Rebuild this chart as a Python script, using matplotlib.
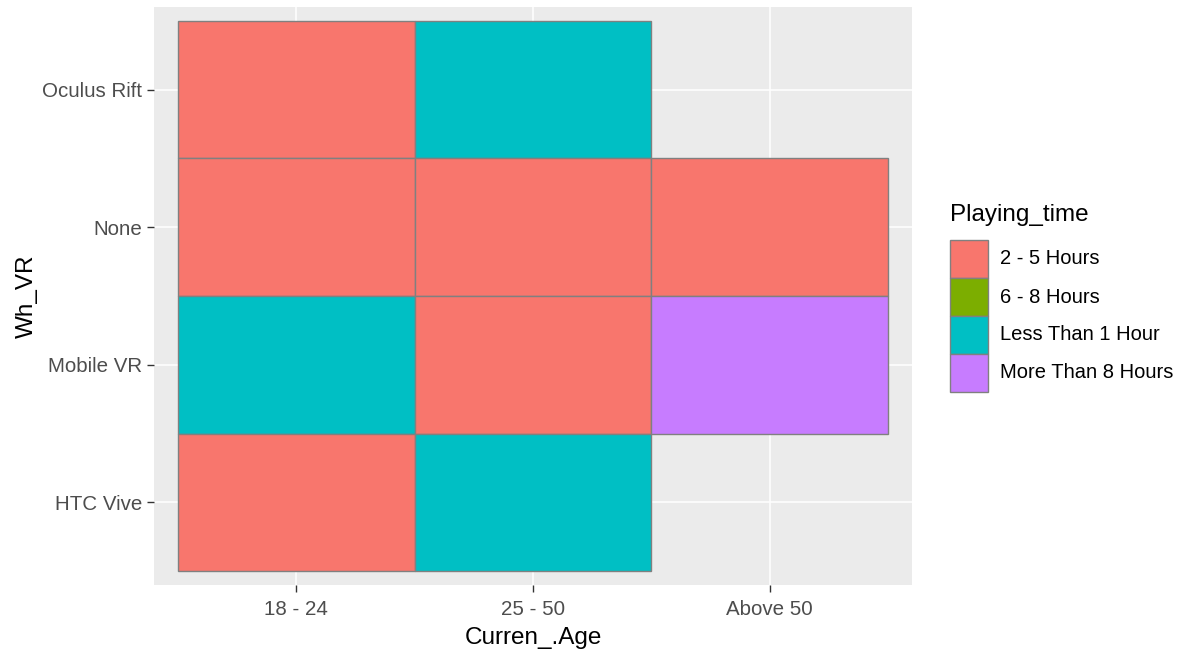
import matplotlib.pyplot as plt
from matplotlib.patches import Rectangle

plt.rcParams['font.family'] = ['Liberation Sans', 'DejaVu Sans']

ages = ["18 - 24", "25 - 50", "Above 50"]
devices = ["HTC Vive", "Mobile VR", "None", "Oculus Rift"]
levels = ["2 - 5 Hours", "6 - 8 Hours", "Less Than 1 Hour", "More Than 8 Hours"]
colors = ["#F8766D", "#7CAE00", "#00BFC4", "#C77CFF"]

# (age, device, playing time)
tiles_age = ["18 - 24", "25 - 50",
             "18 - 24", "25 - 50", "Above 50",
             "18 - 24", "25 - 50", "Above 50",
             "18 - 24", "25 - 50"]
tiles_dev = ["Oculus Rift", "Oculus Rift",
             "None", "None", "None",
             "Mobile VR", "Mobile VR", "Mobile VR",
             "HTC Vive", "HTC Vive"]
tiles_time = ["2 - 5 Hours", "Less Than 1 Hour",
              "2 - 5 Hours", "2 - 5 Hours", "2 - 5 Hours",
              "Less Than 1 Hour", "2 - 5 Hours", "More Than 8 Hours",
              "2 - 5 Hours", "Less Than 1 Hour"]

W, H = 1184, 654
fig = plt.figure(figsize=(W / 100, H / 100), dpi=100)
ax = fig.add_axes([154 / W, 1 - 585 / H, 758 / W, 578 / H])
ax.set_facecolor("#EBEBEB")

for a, d, t in zip(tiles_age, tiles_dev, tiles_time):
    x = ages.index(a) + 1
    y = devices.index(d) + 1
    ax.add_patch(Rectangle((x - 0.5, y - 0.5), 1, 1,
                           facecolor=colors[levels.index(t)],
                           edgecolor="#808080", linewidth=1.0, zorder=2))

ax.set_xlim(0.4, 3.6)
ax.set_ylim(0.4, 4.6)
ax.set_xticks(range(1, len(ages) + 1))
ax.set_xticklabels(ages)
ax.set_yticks(range(1, len(devices) + 1))
ax.set_yticklabels(devices)
ax.grid(True, color="white", linewidth=1.1, zorder=1)
ax.set_axisbelow(True)
for s in ax.spines.values():
    s.set_visible(False)
ax.tick_params(colors="#333333", labelcolor="#4D4D4D", labelsize=14.8,
               length=5, width=1.0)
ax.tick_params(axis="x", pad=5.5)
ax.tick_params(axis="y", pad=3.5)
ax.set_xlabel("Curren_.Age", fontsize=17.5, color="black", labelpad=6)
ax.set_ylabel("Wh_VR", fontsize=17.5, color="black", labelpad=3)

# legend
fig.text(950 / W, 1 - 215 / H, "Playing_time", fontsize=17.5,
         va="center", ha="left")
key = 38
top = 240
for i, (lab, c) in enumerate(zip(levels, colors)):
    y0 = top + i * key
    fig.patches.append(Rectangle((950 / W, 1 - (y0 + key) / H), key / W, key / H,
                                 transform=fig.transFigure, facecolor=c,
                                 edgecolor="#808080", linewidth=1.0))
    fig.text(1000 / W, 1 - (y0 + key / 2) / H, lab, fontsize=14.5,
             va="center", ha="left")

fig.savefig("out.png", dpi=100)
